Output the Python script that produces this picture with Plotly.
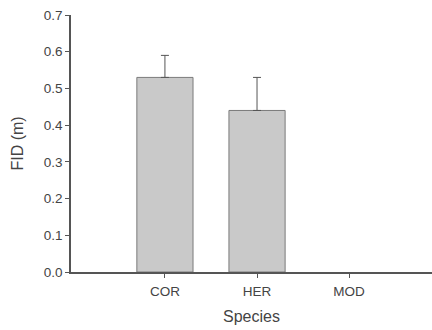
import plotly.graph_objects as go

species = ["COR", "HER", "MOD"]
fid_mean = [0.53, 0.44, None]  # MOD: no bar drawn in the reference
fid_err = [0.06, 0.09, None]
y_ticks = [0.0, 0.1, 0.2, 0.3, 0.4, 0.5, 0.6, 0.7]
y_tick_labels = ["0.0", "0.1", "0.2", "0.3", "0.4", "0.5", "0.6", "0.7"]

fig = go.Figure()
fig.add_trace(go.Bar(
    x=[0, 1, 2], y=fid_mean, width=0.61,
    marker=dict(color="#c9c9c9", line=dict(color="#7a7a7a", width=1)),
    error_y=dict(type="data", array=fid_err, arrayminus=[0, 0, 0], symmetric=False,
                 color="#555555", thickness=1, width=4, visible=True),
))
fig.update_layout(
    width=432, height=330,
    margin=dict(l=71, r=0, t=15, b=58),
    plot_bgcolor="white", paper_bgcolor="white",
    font=dict(family="Liberation Sans, Arial, sans-serif", color="#444444"),
    showlegend=False,
    xaxis=dict(
        range=[-1.02, 2.9], tickmode="array", tickvals=[0, 1, 2], ticktext=species,
        ticks="outside", ticklen=4, tickcolor="#555555",
        showline=True, linecolor="#555555", linewidth=1.5,
        showgrid=False, zeroline=False, automargin=False,
        tickfont=dict(size=13.5), ticklabelstandoff=2,
        title=dict(text="Species", font=dict(size=16), standoff=13),
    ),
    yaxis=dict(
        range=[0, 0.7], tickmode="array", tickvals=y_ticks, ticktext=y_tick_labels,
        ticks="outside", ticklen=4, tickcolor="#555555",
        showline=True, linecolor="#555555", linewidth=1.5,
        showgrid=False, zeroline=False, automargin=False,
        tickfont=dict(size=13.5),
        title=dict(text="FID (m)", font=dict(size=16), standoff=16),
    ),
)
fig.write_html(
    "out.html",
    config={"displayModeBar": False},
    post_script="document.body.style.margin='0';document.body.style.overflow='hidden';",
)
